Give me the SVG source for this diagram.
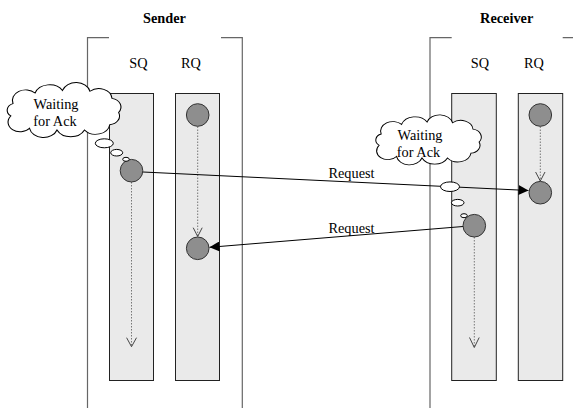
<svg xmlns="http://www.w3.org/2000/svg" width="573" height="408" viewBox="0 0 573 408">
<style>
  text { font-family: "Liberation Serif", "Times New Roman", serif; font-size: 14.3px; fill: #000; }
  .title { font-weight: bold; text-anchor: middle; }
  .c { text-anchor: middle; }
  .bracket { fill: none; stroke: #666; stroke-width: 1.2; }
  .lane { fill: #eaeaea; stroke: #222; stroke-width: 1; }
  .msg { fill: #8e8e8e; stroke: #333; stroke-width: 1; }
  .dot { fill: none; stroke: #777; stroke-width: 1; stroke-dasharray: 1.5 1.5; }
  .vhead { fill: none; stroke: #333; stroke-width: 0.9; }
  .req { fill: none; stroke: #000; stroke-width: 1; }
  .bub { fill: #fff; stroke: #000; stroke-width: 1; }
  .cloud { fill: #fff; stroke: #000; stroke-width: 1; }
</style>
<defs>
  <marker id="tri" viewBox="0 0 10 10" refX="10" refY="5" markerWidth="10" markerHeight="10" markerUnits="userSpaceOnUse" orient="auto">
    <path d="M0,0 L10,5 L0,10 Z" fill="#000"/>
  </marker>
  <path id="cloudShape" d="M 8,34 A 8,8 0 0 1 10,20 A 12,12 0 0 1 30,8 A 14,14 0 0 1 55,5 A 13,13 0 0 1 80,6 A 12,12 0 0 1 100,14 A 10,10 0 0 1 106,30 A 10,10 0 0 1 98,44 A 13,13 0 0 1 75,50 A 14,14 0 0 1 50,50 A 13,13 0 0 1 25,48 A 11,11 0 0 1 8,34 Z"/>
</defs>

<g id="sender">
  <text class="title" x="164.5" y="22.5">Sender</text>
  <path class="bracket" d="M87.5,408 V37.7 H109 M221,37.7 H242.3 V408"/>
  <text class="c" x="138.5" y="68">SQ</text>
  <text class="c" x="191" y="68">RQ</text>
  <rect class="lane" x="109.5" y="93.5" width="44" height="287"/>
  <rect class="lane" x="175.5" y="93.5" width="44" height="287"/>
</g>

<g id="receiver">
  <text class="title" x="506.7" y="22.5">Receiver</text>
  <path class="bracket" d="M430,408 V37.7 H451.7 M562.7,37.7 H573"/>
  <text class="c" x="480" y="68">SQ</text>
  <text class="c" x="534" y="68">RQ</text>
  <rect class="lane" x="451.7" y="93.5" width="44.6" height="287"/>
  <rect class="lane" x="518.3" y="93.5" width="44.4" height="287"/>
</g>

<g id="connectors">
  <line class="dot" x1="131.5" y1="182" x2="131.5" y2="346.5"/>
  <path class="vhead" d="M126.6,337.7 L131.5,346.7 L136.5,337.7"/>
  <line class="dot" x1="197.7" y1="126.5" x2="197.7" y2="236"/>
  <path class="vhead" d="M193.2,227.7 L197.7,236.5 L202.2,227.7"/>
  <line class="dot" x1="540.3" y1="126.5" x2="540.3" y2="181"/>
  <path class="vhead" d="M535.6,172 L540.3,181 L545,172"/>
  <line class="dot" x1="474.3" y1="237" x2="474.3" y2="347"/>
  <path class="vhead" d="M469.5,337.5 L474.3,347.5 L479.2,337.5"/>
  <line class="req" x1="143" y1="172" x2="528.5" y2="190.5" marker-end="url(#tri)"/>
  <text class="c" x="351.5" y="178">Request</text>
  <line class="req" x1="463" y1="226.5" x2="209.5" y2="247.3" marker-end="url(#tri)"/>
  <text class="c" x="351.5" y="233">Request</text>
</g>

<g id="messages">
  <circle id="s-rq-1" class="msg" cx="197.7" cy="115" r="11.3"/>
  <circle id="s-sq-1" class="msg" cx="131.5" cy="170.7" r="11.3"/>
  <circle id="s-rq-2" class="msg" cx="197.7" cy="248.3" r="11.3"/>
  <circle id="r-rq-1" class="msg" cx="540.3" cy="115" r="11.3"/>
  <circle id="r-rq-2" class="msg" cx="540.3" cy="192.7" r="11.3"/>
  <circle id="r-sq-1" class="msg" cx="474.3" cy="225.7" r="11.3"/>
</g>

<g id="sender-thought">
  <use href="#cloudShape" class="cloud" transform="translate(2,86) scale(1.1,0.88)" vector-effect="non-scaling-stroke"/>
  <text class="c" x="56" y="108.5">Waiting</text>
  <text class="c" x="55" y="125.5">for Ack</text>
  <ellipse class="bub" cx="104.3" cy="143.3" rx="9" ry="4.5"/>
  <ellipse class="bub" cx="116.7" cy="152.7" rx="6" ry="3.3"/>
  <ellipse class="bub" cx="126" cy="159.3" rx="3.3" ry="2"/>
</g>

<g id="receiver-thought">
  <use href="#cloudShape" class="cloud" transform="translate(371,118) scale(1.02,0.8)" vector-effect="non-scaling-stroke"/>
  <text class="c" x="420" y="140">Waiting</text>
  <text class="c" x="418.5" y="157">for Ack</text>
  <ellipse class="bub" cx="450" cy="186.7" rx="9.5" ry="4.8"/>
  <ellipse class="bub" cx="457.7" cy="202.7" rx="6.3" ry="3.3"/>
  <ellipse class="bub" cx="464" cy="215.7" rx="3.3" ry="2"/>
</g>
</svg>
